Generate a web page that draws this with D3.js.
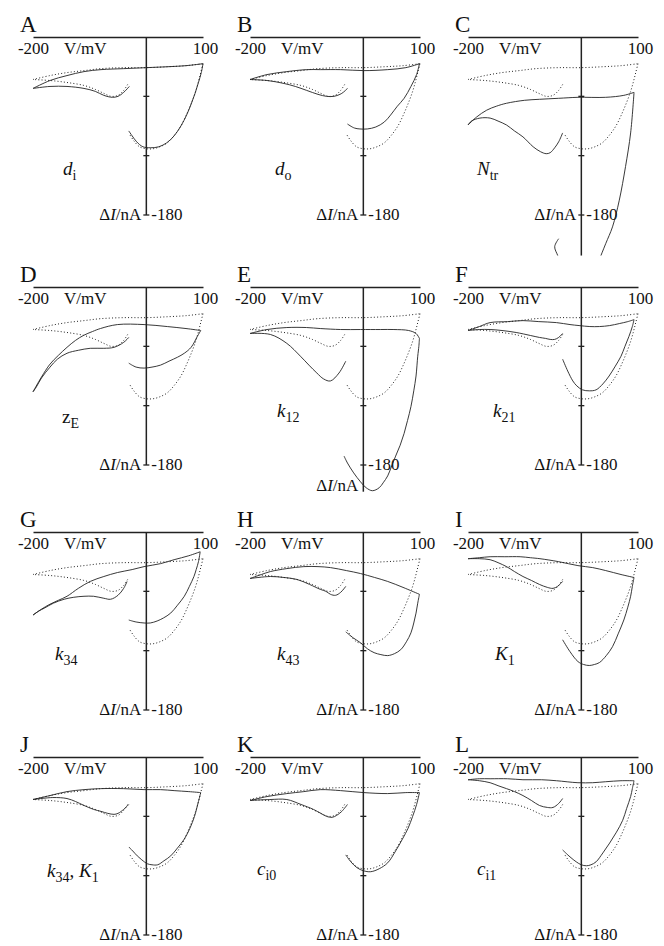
<!DOCTYPE html>
<html>
<head>
<meta charset="utf-8">
<script src="https://cdn.jsdelivr.net/npm/d3@7"></script>
<style>
  body { margin: 0; background: #fff; }
  svg { display: block; }
  text { font-family: "Liberation Serif", "Times New Roman", serif; fill: #111; }
</style>
</head>
<body>
<div id="chart"></div>
<script>
// panel letters and the parameter that was changed in each panel
const panelIds = ['A', 'B', 'C', 'D', 'E', 'F', 'G', 'H', 'I', 'J', 'K', 'L'];
const paramLabels = [
  [['d', 'i']], [['d', 'o']], [['N', 'tr']],
  [['z', 'E']], [['k', '12']], [['k', '21']],
  [['k', '34']], [['k', '43']], [['K', '1']],
  [['k', '34'], ['K', '1']], [['c', 'i0']], [['c', 'i1']]
];
const vTicks = [-200, 100];      // V/mV
const iTicks = [-60, -120, -180]; // ΔI/nA

// control loop (dotted), [V mV, ΔI nA]: -30 -> -200 -> +100 -> -30
const control = [
  [-33, -48], [-40, -54], [-50, -59], [-62, -60], [-75, -57], [-90, -53], [-110, -49], [-140, -46], [-170, -44], [-200, -43],
  [-170, -39], [-140, -36], [-110, -34], [-80, -32], [-40, -31], [0, -31], [40, -30], [70, -29], [100, -27],
  [96, -36], [92, -45], [87, -55], [80, -66], [72, -77], [62, -89], [50, -99], [37, -107], [24, -111], [12, -113], [0, -113], [-12, -111], [-22, -105], [-30, -98]
];

// model loops (solid), one per panel
const fitA = [
  [-30, -50], [-40, -56], [-50, -60], [-60, -61], [-75, -59], [-90, -55], [-110, -52], [-140, -50], [-170, -50], [-200, -52],
  [-170, -44], [-140, -39], [-110, -35], [-80, -33], [-40, -32], [0, -31], [40, -30], [70, -29], [100, -27],
  [97, -36], [92, -46], [86, -57], [79, -68], [71, -79], [61, -90], [49, -100], [36, -107], [22, -111], [8, -112], [-6, -111], [-17, -106], [-25, -100], [-31, -95]
];
const fitB = [
  [-28, -52], [-38, -57], [-52, -60], [-65, -60], [-80, -58], [-100, -54], [-120, -50], [-140, -47], [-170, -44], [-200, -43],
  [-170, -38], [-135, -35], [-100, -33], [-76, -33], [-40, -33], [1, -34], [43, -33], [75, -31], [99, -27],
  [94, -38], [84, -50], [72, -62], [60, -70], [48, -79], [37, -86], [22, -91], [7, -93], [-6, -93], [-16, -92], [-28, -88]
];
const fitC = [
  [-33, -97], [-40, -106], [-47, -112], [-55, -117], [-62, -118], [-72, -116], [-85, -111], [-103, -101], [-118, -95], [-132, -89], [-147, -85], [-161, -82], [-179, -82], [-194, -85], [-200, -89],
  [-185, -81], [-167, -74], [-150, -70], [-132, -67], [-100, -64], [-74, -63], [-40, -62], [-6, -61], [43, -61], [75, -59], [93, -56],
  [87, -97], [78, -131], [67, -165], [55, -192], [43, -209], [30, -228], [15, -255], [0, -268], [-15, -262], [-30, -242], [-41, -222], [-47, -212], [-40, -204]
];
const fitD = [
  [-31, -51], [-40, -56], [-57, -61], [-75, -62], [-99, -62], [-120, -64], [-140, -67], [-157, -73], [-170, -81], [-185, -92], [-194, -101], [-200, -106],
  [-185, -91], [-170, -78], [-155, -69], [-140, -61], [-125, -54], [-111, -49], [-95, -45], [-81, -42], [-51, -38], [-4, -38], [37, -40], [70, -42], [96, -44],
  [90, -50], [79, -61], [67, -67], [55, -71], [40, -75], [25, -79], [10, -81], [-4, -82], [-18, -81], [-31, -77]
];
const fitE = [
  [-31, -75], [-43, -87], [-58, -95], [-70, -93], [-82, -87], [-96, -79], [-111, -70], [-135, -57], [-164, -48], [-200, -47],
  [-170, -43], [-135, -41], [-100, -41], [-76, -42], [-40, -43], [-5, -43], [30, -43], [54, -43], [80, -44], [93, -47], [99, -52],
  [98, -60], [96, -70], [93, -90], [89, -105], [84, -121], [78, -135], [72, -148], [65, -160], [57, -171], [50, -181], [43, -191], [35, -198], [28, -203], [16, -206], [5, -203], [-5, -197], [-17, -188], [-28, -178], [-34, -171]
];
const fitF = [
  [-33, -47], [-40, -51], [-47, -53], [-55, -53], [-63, -52], [-74, -51], [-90, -49], [-115, -46], [-140, -44], [-161, -43], [-180, -43], [-200, -44],
  [-180, -40], [-161, -36], [-130, -35], [-103, -34], [-75, -35], [-44, -36], [-20, -38], [-4, -39], [15, -40], [32, -40], [50, -39], [67, -37], [82, -35], [93, -33],
  [90, -40], [84, -50], [77, -60], [70, -70], [60, -80], [49, -90], [38, -98], [26, -104], [14, -105], [2, -104], [-8, -100], [-15, -95], [-24, -85], [-33, -73]
];
const fitG = [
  [-34, -50], [-40, -57], [-50, -64], [-63, -68], [-75, -67], [-93, -65], [-110, -65], [-128, -66], [-145, -68], [-164, -72], [-180, -77], [-190, -80], [-200, -84],
  [-185, -78], [-170, -73], [-155, -69], [-140, -65], [-120, -57], [-99, -50], [-75, -45], [-51, -41], [-25, -38], [-4, -35], [25, -32], [49, -28], [75, -24], [95, -20],
  [92, -30], [88, -38], [84, -45], [76, -55], [67, -65], [55, -74], [43, -82], [30, -87], [19, -90], [7, -92], [-4, -92], [-18, -91], [-31, -89]
];
const fitH = [
  [-31, -55], [-40, -61], [-49, -64], [-58, -63], [-66, -60], [-76, -58], [-95, -53], [-117, -48], [-140, -46], [-164, -45], [-200, -47],
  [-180, -43], [-164, -40], [-135, -37], [-105, -35], [-80, -35], [-58, -36], [-30, -39], [-5, -42], [20, -46], [43, -50], [70, -56], [99, -63],
  [96, -72], [93, -82], [89, -92], [84, -102], [76, -111], [66, -119], [55, -123], [43, -125], [31, -124], [19, -122], [7, -118], [-5, -112], [-18, -107], [-31, -101]
];
const fitI = [
  [-33, -50], [-42, -55], [-50, -57], [-60, -56], [-74, -53], [-88, -49], [-103, -45], [-118, -40], [-132, -35], [-147, -31], [-161, -28], [-180, -27], [-200, -27],
  [-180, -26], [-161, -25], [-135, -25], [-108, -25], [-90, -26], [-73, -27], [-40, -30], [-6, -34], [20, -36], [43, -39], [70, -43], [93, -46],
  [90, -55], [87, -65], [82, -76], [75, -89], [65, -103], [55, -116], [44, -125], [32, -132], [23, -134], [14, -135], [4, -134], [-6, -131], [-20, -121], [-33, -109]
];
const fitJ = [
  [-31, -48], [-40, -53], [-50, -57], [-57, -58], [-68, -57], [-80, -55], [-93, -53], [-110, -49], [-125, -45], [-140, -42], [-165, -41], [-200, -43],
  [-170, -39], [-140, -35], [-110, -33], [-81, -32], [-40, -32], [-4, -33], [25, -33], [49, -34], [75, -35], [96, -36],
  [92, -45], [85, -60], [77, -72], [67, -83], [55, -92], [43, -100], [31, -105], [20, -109], [10, -109], [2, -108], [-8, -104], [-16, -100], [-24, -95], [-31, -91]
];
const fitK = [
  [-28, -48], [-38, -55], [-47, -59], [-55, -61], [-65, -60], [-75, -57], [-88, -53], [-110, -48], [-135, -43], [-165, -43], [-200, -44],
  [-170, -40], [-135, -37], [-105, -35], [-76, -33], [-40, -34], [1, -36], [43, -37], [75, -36], [99, -36],
  [94, -48], [87, -60], [79, -72], [69, -83], [57, -95], [43, -107], [28, -113], [13, -116], [0, -115], [-11, -112], [-22, -106], [-31, -99]
];
const fitL = [
  [-33, -42], [-40, -47], [-50, -51], [-60, -51], [-74, -49], [-88, -44], [-103, -39], [-118, -35], [-132, -32], [-147, -29], [-161, -26], [-180, -24], [-200, -23],
  [-180, -22], [-161, -22], [-130, -22], [-103, -23], [-70, -23], [-44, -24], [-6, -26], [20, -26], [43, -25], [70, -24], [93, -24],
  [90, -32], [87, -40], [80, -52], [73, -64], [62, -76], [50, -87], [38, -97], [26, -106], [17, -109], [9, -110], [0, -109], [-9, -106], [-20, -101], [-33, -94]
];
const fits = [fitA, fitB, fitC, fitD, fitE, fitF, fitG, fitH, fitI, fitJ, fitK, fitL];

// where the current axis stops (C and E run past -180)
const axisEnd = [-180, -180, -221, -180, -207, -180, -180, -180, -180, -180, -180, -180];

// layout
const width = 664;
const height = 946;
const colX = [33, 250, 468];
const rowY = [37, 287, 532, 757];
const plotW = 170;
const plotH = 178;
const labelPos = [[30, 138], [25, 138], [9, 138], [29, 136], [27, 130], [25, 130],
                  [22, 128], [27, 128], [27, 128], [14, 120], [7, 118], [9, 118]];

const svg = d3.select('#chart')
  .append('svg')
  .attr('width', width)
  .attr('height', height);

// split a loop at its V extremes so each branch is smoothed on its own
const branches = pts => {
  const iMin = d3.minIndex(pts, d => d[0]);
  const iMax = d3.maxIndex(pts, d => d[0]);
  return [pts.slice(0, iMin + 1), pts.slice(iMin, iMax + 1), pts.slice(iMax)];
};

panelIds.forEach((id, p) => {
  const x0 = colX[p % 3];
  const y0 = rowY[Math.floor(p / 3)];

  const x = d3.scaleLinear().domain([-200, 100]).range([x0, x0 + plotW]);
  const y = d3.scaleLinear().domain([0, -180]).range([y0, y0 + plotH]);
  const xV0 = x(0);

  const g = svg.append('g');

  // clip region for curves that run off the bottom
  g.append('clipPath').attr('id', 'clip' + id)
    .append('rect')
    .attr('x', x0 - 10).attr('y', y0 - 20)
    .attr('width', plotW + 20).attr('height', y(-221) - y0 + 20);

  // panel letter
  g.append('text')
    .attr('x', x0 - 13).attr('y', y0 - 5)
    .style('font-size', '23px')
    .text(id);

  // voltage axis on top
  const xAxis = d3.axisBottom(x)
    .tickValues(vTicks)
    .tickSize(0)
    .tickPadding(5)
    .tickFormat(d => d);
  const xa = g.append('g').attr('transform', `translate(0,${y0})`).call(xAxis);
  xa.select('.domain').attr('stroke', '#222').attr('stroke-width', 1.5);
  xa.selectAll('.tick text')
    .attr('fill', '#111')
    .style('font-family', '"Liberation Serif", serif')
    .style('font-size', '17px');
  xa.selectAll('.tick').filter(d => d === 100).select('text').attr('x', 2);

  g.append('text')
    .attr('x', x0 + 31).attr('y', y0 + 17)
    .style('font-size', '17px')
    .text('V/mV');

  // current axis down the middle
  g.append('line')
    .attr('x1', xV0).attr('x2', xV0)
    .attr('y1', y(0)).attr('y2', y(axisEnd[p]))
    .attr('stroke', '#222').attr('stroke-width', 1.5);

  g.selectAll('.itick')
    .data(iTicks)
    .join('line')
    .attr('x1', xV0 - 3).attr('x2', xV0 + 3)
    .attr('y1', d => y(d)).attr('y2', d => y(d))
    .attr('stroke', '#222').attr('stroke-width', 1.3);

  g.append('text')
    .attr('x', xV0 + 5).attr('y', y(-180) + 5)
    .style('font-size', '17px')
    .text('-180');

  const unitY = p === 4 ? y(axisEnd[p]) - 1 : y(-180) + 5;
  const unit = g.append('text')
    .attr('x', xV0 - 5).attr('y', unitY)
    .attr('text-anchor', 'end')
    .style('font-size', '17px');
  unit.append('tspan').text('Δ');
  unit.append('tspan').style('font-style', 'italic').text('I');
  unit.append('tspan').text('/nA');

  // parameter label
  const lab = g.append('text')
    .attr('x', x0 + labelPos[p][0]).attr('y', y0 + labelPos[p][1])
    .style('font-size', '19px');
  paramLabels[p].forEach((part, k) => {
    if (k > 0) lab.append('tspan').attr('dy', -5).text(', ');
    lab.append('tspan')
      .attr('dy', k > 0 ? 0 : null)
      .style('font-style', part[0] === 'z' ? 'normal' : 'italic')
      .text(part[0]);
    lab.append('tspan')
      .attr('dy', 5)
      .style('font-size', '14px')
      .text(part[1]);
  });

  // loops
  const line = d3.line()
    .x(d => x(d[0]))
    .y(d => y(d[1]))
    .curve(d3.curveCatmullRom.alpha(0.5));

  const curves = g.append('g').attr('clip-path', `url(#clip${id})`);

  curves.selectAll('.ctrl')
    .data(branches(control))
    .join('path')
    .attr('d', line)
    .attr('fill', 'none')
    .attr('stroke', '#222')
    .attr('stroke-width', 1)
    .attr('stroke-dasharray', '1,2.2');

  curves.selectAll('.fit')
    .data(branches(fits[p]))
    .join('path')
    .attr('d', line)
    .attr('fill', 'none')
    .attr('stroke', '#222')
    .attr('stroke-width', 0.9);
});
</script>
</body>
</html>
